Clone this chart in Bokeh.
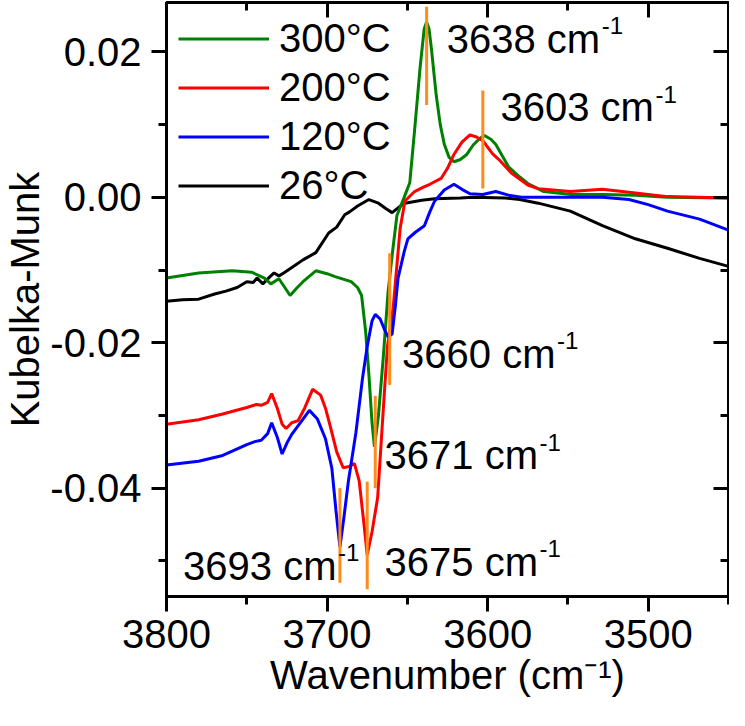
from bokeh.plotting import figure
from bokeh.models import (Range1d, LinearAxis, FixedTicker, NumeralTickFormatter,
                          Legend, LegendItem, ColumnDataSource)
from bokeh.core.properties import value
from bokeh.embed import file_html
from bokeh.resources import INLINE

FONT = "Liberation Sans"

# ---------------- data ----------------
x_26 = [3800, 3790, 3780, 3770, 3763, 3756, 3750, 3746, 3743.6, 3740, 3736, 3733, 3730,
        3727, 3721, 3715, 3707, 3699, 3694, 3689, 3686, 3681, 3674, 3668, 3663, 3659.5,
        3655, 3651.5, 3641, 3633, 3617, 3609, 3589, 3580, 3568.5, 3548.5, 3528.5, 3508,
        3488, 3468, 3450]
y_26 = [-0.0143, -0.0141, -0.0140, -0.0133, -0.0129, -0.0124, -0.0116, -0.0117, -0.0111,
        -0.0119, -0.0110, -0.0104, -0.0108, -0.0104, -0.0095, -0.0086, -0.0076, -0.0049,
        -0.0041, -0.0024, -0.0020, -0.0012, -0.0003, -0.0008, -0.0016, -0.0021, -0.0013,
        -0.0008, -0.0004, -0.0002, -0.0001, 0.0, -0.0001, -0.0003, -0.0008, -0.0019,
        -0.0039, -0.0057, -0.0070, -0.0084, -0.0095]

x_120 = [3800, 3780, 3765, 3750, 3745, 3741, 3737, 3734.5, 3731, 3728, 3725, 3722, 3716,
         3711, 3706, 3701, 3697, 3694.5, 3692, 3689.5, 3686.7, 3682, 3678, 3675, 3672,
         3670, 3667, 3664, 3662, 3659.5, 3657.5, 3655.8, 3652, 3649.7, 3645, 3639.4, 3636,
         3633, 3627, 3621, 3616, 3611, 3603, 3595, 3587, 3579, 3528.5, 3512, 3500, 3488,
         3468, 3450]
y_120 = [-0.0368, -0.0363, -0.0355, -0.0340, -0.0336, -0.0334, -0.0325, -0.0310, -0.0330,
         -0.0353, -0.0338, -0.0326, -0.0308, -0.0293, -0.0305, -0.0332, -0.0373, -0.0430,
         -0.0481, -0.0440, -0.0390, -0.0323, -0.0250, -0.0205, -0.0170, -0.0161, -0.0167,
         -0.0183, -0.0192, -0.0188, -0.0150, -0.0111, -0.0075, -0.0057, -0.0048, -0.0039,
         -0.0020, -0.0005, 0.0010, 0.0018, 0.0011, 0.0005, 0.0004, 0.0008, 0.0003, 0.0,
         0.0, -0.0003, -0.0010, -0.0019, -0.0030, -0.0045]

x_200 = [3800, 3780, 3765, 3750, 3744, 3741, 3737, 3734.5, 3731, 3728, 3725.5, 3722, 3718,
         3714, 3709, 3704, 3701, 3698, 3694, 3690, 3686, 3683, 3680, 3677, 3675, 3672,
         3668.5, 3665, 3662.4, 3658.8, 3654.5, 3651.5, 3645.5, 3640, 3636, 3629, 3625,
         3621, 3616, 3611, 3607, 3603, 3597, 3593, 3585, 3575, 3568.5, 3548.5, 3528.5,
         3508, 3488, 3450]
y_200 = [-0.0312, -0.0306, -0.0298, -0.0289, -0.0285, -0.0286, -0.0282, -0.0270, -0.0290,
         -0.0312, -0.0318, -0.0310, -0.0307, -0.0290, -0.0264, -0.0272, -0.0290, -0.0315,
         -0.0350, -0.0372, -0.0370, -0.0366, -0.0390, -0.0450, -0.0492, -0.0460, -0.0413,
         -0.0292, -0.0205, -0.0151, -0.0043, -0.0005, 0.0008, 0.0014, 0.0018, 0.0026,
         0.0040, 0.0059, 0.0076, 0.0086, 0.0083, 0.0078, 0.0060, 0.0052, 0.0033, 0.0017,
         0.0012, 0.0008, 0.0011, 0.0006, 0.0001, -0.0001]

x_300 = [3800, 3780, 3759, 3747, 3739, 3735, 3730, 3726, 3723, 3719, 3715, 3707, 3700,
         3695, 3685, 3681, 3678.5, 3676, 3674, 3672, 3670.5, 3668, 3665, 3662, 3659.5,
         3656.5, 3652, 3648.5, 3645.5, 3642, 3639.5, 3638, 3636.5, 3635, 3632, 3629.5,
         3627, 3624, 3621, 3617, 3613, 3609, 3605, 3602, 3598, 3595, 3587, 3580, 3575,
         3565, 3548, 3528, 3508, 3488, 3450]
y_300 = [-0.0111, -0.0104, -0.0101, -0.0103, -0.0111, -0.0119, -0.0112, -0.0125, -0.0135,
         -0.0125, -0.0116, -0.0101, -0.0105, -0.0109, -0.0116, -0.0124, -0.0135, -0.0184,
         -0.0242, -0.0310, -0.0343, -0.0300, -0.0220, -0.0130, -0.0080, -0.0025, 0.0000,
         0.0020, 0.0092, 0.0180, 0.0232, 0.0241, 0.0232, 0.0204, 0.0140, 0.0100, 0.0073,
         0.0055, 0.0049, 0.0052, 0.0059, 0.0072, 0.0081, 0.0085, 0.0080, 0.0073, 0.0042,
         0.0028, 0.0019, 0.0008, 0.0004, 0.0004, 0.0003, 0.0, -0.0001]

series_labels = ["300°C", "200°C", "120°C", "26°C"]
series_colors = ["#008000", "#FF0000", "#0000FF", "#000000"]

# orange peak markers
peak_x = [3638, 3603, 3661, 3670, 3675, 3692]
peak_top = [0.0262, 0.0147, -0.0077, -0.0273, -0.0391, -0.0400]
peak_bottom = [0.0127, 0.0012, -0.0258, -0.0400, -0.0539, -0.0530]

# peak annotations (text + anchor position)
ann_text = ["3638 cm", "3603 cm", "3660 cm", "3671 cm", "3675 cm", "3693 cm"]
ann_x = [3625.5, 3592.0, 3653.3, 3664.2, 3664.2, 3789.7]
ann_y = [0.0218, 0.0124, -0.0215, -0.0355, -0.0501, -0.0507]
ann_sup = ["-1"] * 6

x_ticks = [3800, 3700, 3600, 3500]
x_minor = [3750, 3650, 3550, 3450]
y_ticks = [-0.04, -0.02, 0.0, 0.02]
y_minor = [-0.05, -0.03, -0.01, 0.01]

# ---------------- figure ----------------
p = figure(width=729, height=710,
           x_range=Range1d(3800, 3450), y_range=Range1d(-0.0549, 0.0268),
           output_backend="svg", toolbar_location=None,
           min_border_left=157, min_border_right=1, min_border_top=2,
           min_border_bottom=114)
p.xgrid.visible = False
p.ygrid.visible = False
p.outline_line_color = "black"
p.outline_line_width = 3
p.outline_line_alpha = 1.0
p.background_fill_color = "white"
p.border_fill_color = "white"

xt = FixedTicker(ticks=x_ticks, minor_ticks=x_minor)
yt = FixedTicker(ticks=y_ticks, minor_ticks=y_minor)


def style_axis(ax, labels=True, inward=False):
    ax.axis_line_width = 3
    ax.axis_line_color = "black"
    ax.major_tick_line_width = 3
    ax.minor_tick_line_width = 3
    ax.major_tick_line_color = "black"
    ax.minor_tick_line_color = "black"
    if inward:
        ax.major_tick_in, ax.major_tick_out = 15, 0
        ax.minor_tick_in, ax.minor_tick_out = 8, 0
    else:
        ax.major_tick_in, ax.major_tick_out = 0, 15
        ax.minor_tick_in, ax.minor_tick_out = 0, 8
    if labels:
        ax.major_label_text_font = FONT
        ax.major_label_text_font_size = "40px"
        ax.major_label_text_color = "black"
        ax.major_label_standoff = 8
        ax.axis_label_text_font = FONT
        ax.axis_label_text_font_size = "40px"
        ax.axis_label_text_font_style = "normal"
        ax.axis_label_text_color = "black"
        ax.axis_label_standoff = 2
    else:
        ax.major_label_text_font_size = "0px"
        ax.major_label_text_color = None
        ax.major_label_standoff = 0


xa = p.xaxis[0]
xa.ticker = xt
xa.axis_label = "Wavenumber (cm\u207b\u00b9)"
style_axis(xa)

ya = p.yaxis[0]
ya.ticker = yt
ya.formatter = NumeralTickFormatter(format="0.00")
ya.axis_label = "Kubelka-Munk"
style_axis(ya)
ya.major_label_standoff = 10
ya.axis_label_standoff = 0

top = LinearAxis(ticker=xt)
style_axis(top, labels=False, inward=True)
p.add_layout(top, "above")
right = LinearAxis(ticker=yt)
style_axis(right, labels=False, inward=True)
p.add_layout(right, "right")

# curves (drawing order: black, green, red, blue)
r26 = p.line(x_26, y_26, line_color=series_colors[3], line_width=3)
r300 = p.line(x_300, y_300, line_color=series_colors[0], line_width=3)
r200 = p.line(x_200, y_200, line_color=series_colors[1], line_width=3)
r120 = p.line(x_120, y_120, line_color=series_colors[2], line_width=3)

# peak markers
p.segment(x0=peak_x, y0=peak_bottom, x1=peak_x, y1=peak_top,
          line_color="#FF8C1A", line_width=3)

# annotations
src = ColumnDataSource(dict(x=ann_x, y=ann_y, t=ann_text, s=ann_sup))
p.text(x="x", y="y", text="t", source=src, text_font=value(FONT),
       text_font_size="40px", text_align="left", text_baseline="middle",
       text_color="black")
p.text(x="x", y="y", text="s", source=src, text_font=value(FONT),
       text_font_size="24px", text_align="left", text_baseline="middle",
       text_color="black", x_offset=155, y_offset=-13)

legend = Legend(items=[
    LegendItem(label=series_labels[0], renderers=[r300]),
    LegendItem(label=series_labels[1], renderers=[r200]),
    LegendItem(label=series_labels[2], renderers=[r120]),
    LegendItem(label=series_labels[3], renderers=[r26]),
], location="top_left", margin=0, padding=12, spacing=0,
    glyph_width=91, glyph_height=49, label_height=49, label_standoff=10,
    label_text_font=FONT, label_text_font_size="40px", label_text_color="black",
    background_fill_alpha=0, border_line_alpha=0)
p.add_layout(legend)

open("out.html", "w").write(file_html(p, INLINE))
